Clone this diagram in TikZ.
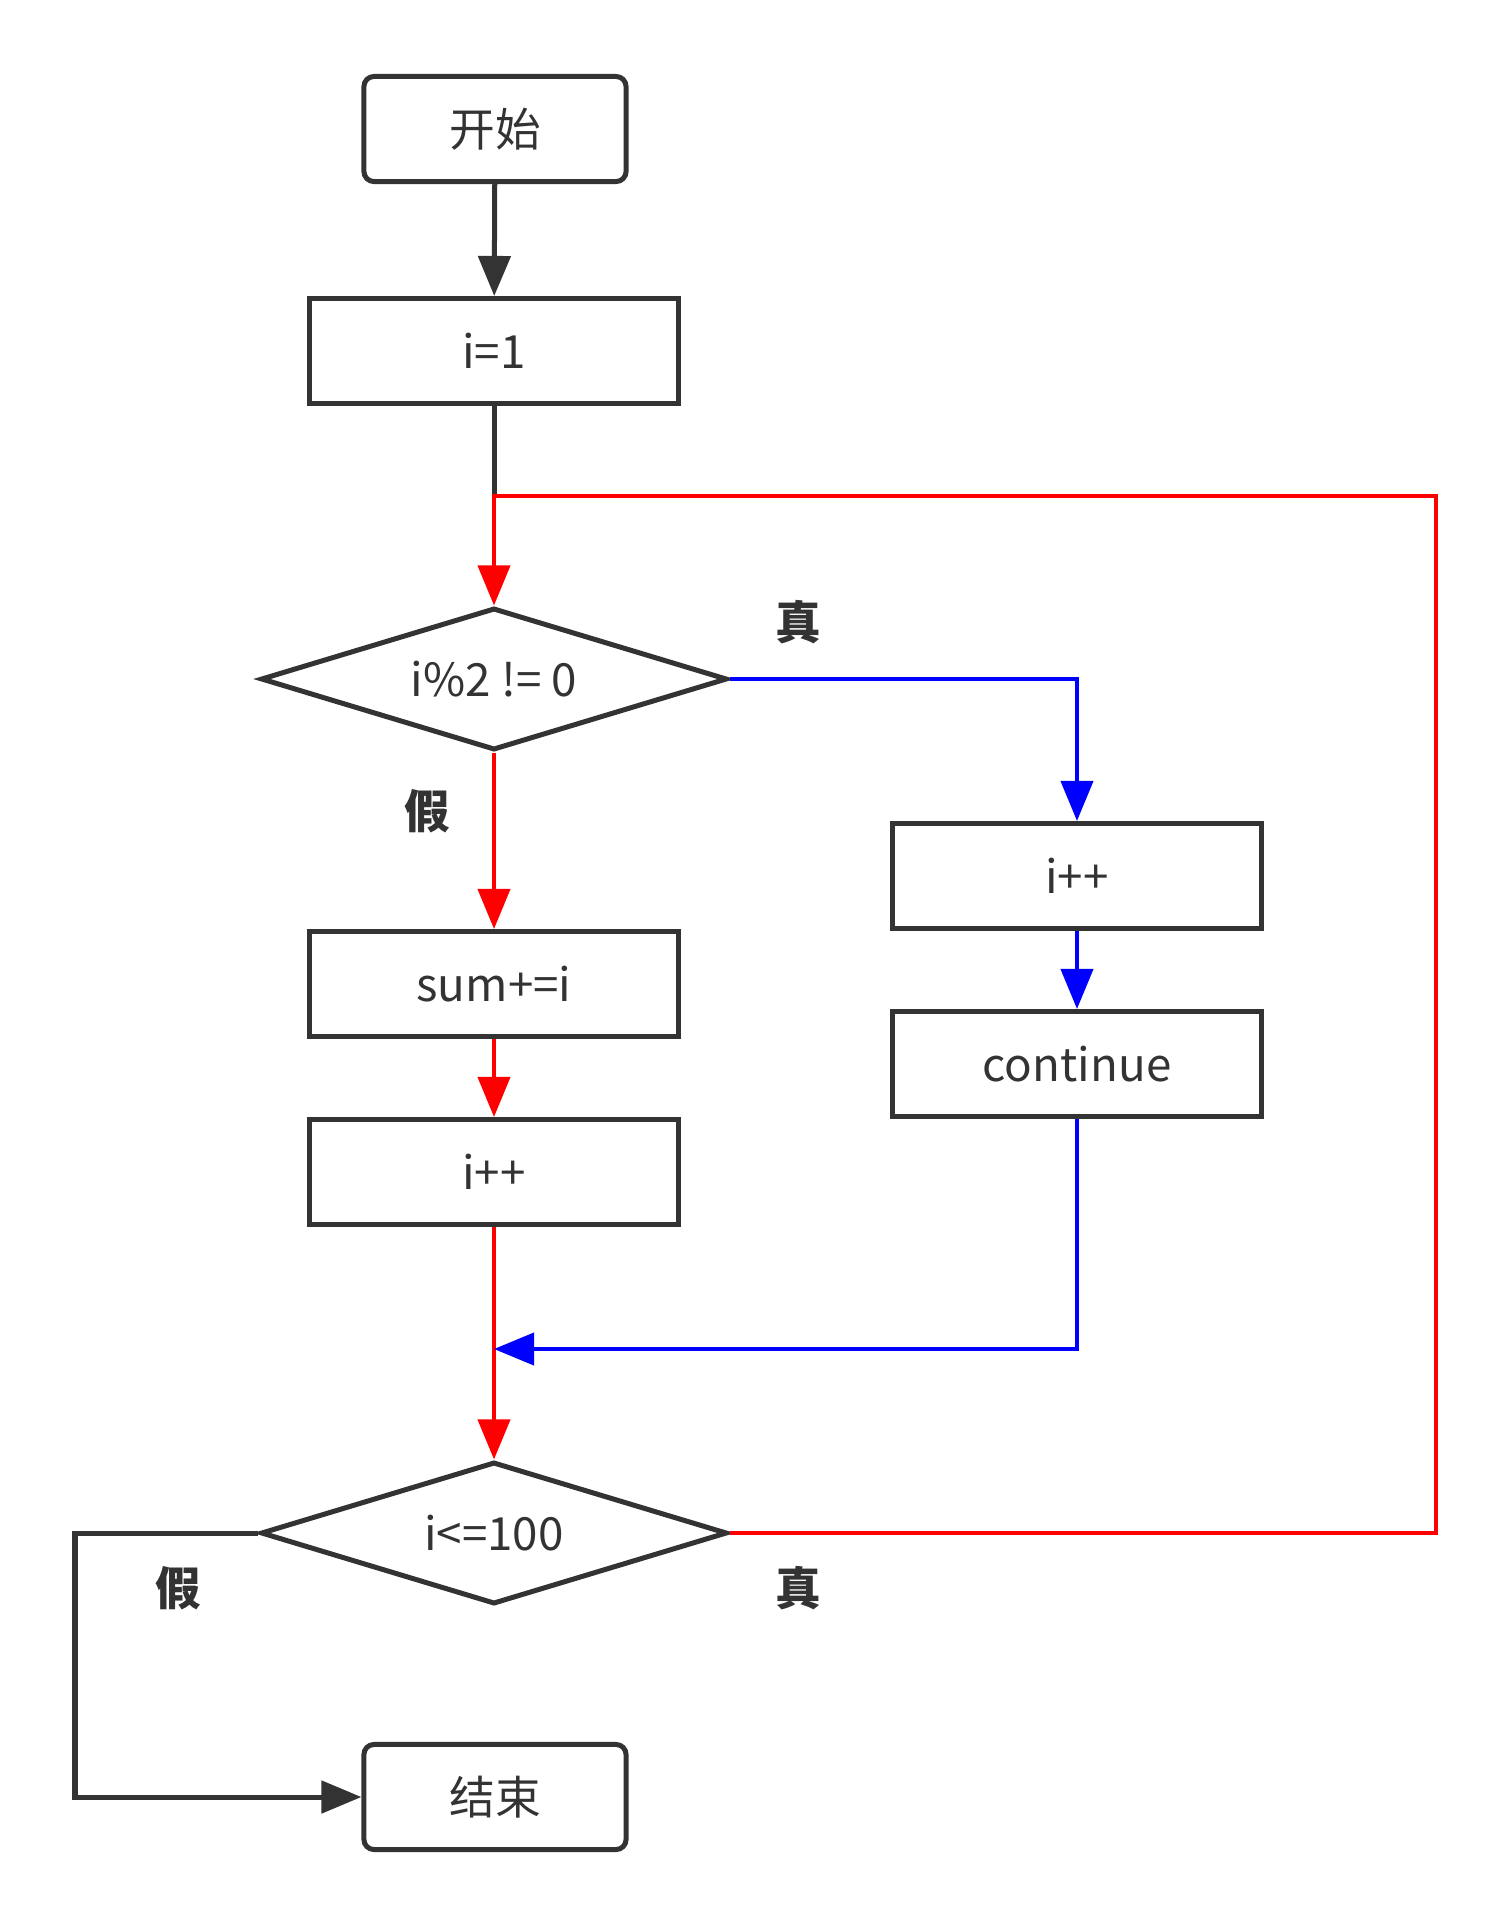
\documentclass[tikz,border=0pt]{standalone}
\usepackage{fontspec}
\setmainfont{Noto Sans CJK SC}
\usetikzlibrary{shapes.geometric,arrows.meta}
\definecolor{dk}{HTML}{333333}

\begin{document}
\begin{tikzpicture}[x=0.01cm,y=-0.01cm,
  font=\fontsize{13}{15}\selectfont, text=dk,
  box/.style={draw=dk,line width=0.05cm,minimum width=3.68cm,minimum height=1.05cm,inner sep=0},
  term/.style={box,rounded corners=0.1cm,minimum width=2.62cm},
  cond/.style={draw=dk,line width=0.05cm,diamond,aspect=3.2,minimum width=4.66cm,minimum height=1.42cm,inner sep=0},
  tip/.style={-{Triangle[length=0.4cm,width=0.32cm]}},
  dkline/.style={draw=dk,line width=0.05cm},
  redline/.style={draw=red,line width=0.04cm},
  blueline/.style={draw=blue,line width=0.04cm},
  lbl/.style={font=\fontsize{13}{15}\selectfont\bfseries}]
\useasboundingbox (0,0) rectangle (1512,1926);
% boxes
\node[term] (start) at (495,129) {开始};
\node[box] (init) at (494,351) {i=1};
\node[cond] (odd) at (494,679) {i\%2 != 0};
\node[box] (incR) at (1077,876) {i++};
\node[box] (cont) at (1077,1064) {continue};
\node[box] (sum) at (494,984) {sum+=i};
\node[box] (incL) at (494,1172) {i++};
\node[cond] (test) at (494,1533) {i<=100};
\node[term] (stop) at (495,1797) {结束};
% bend points
\coordinate (top) at (494,496);
\coordinate (loopR) at (1436,496);
\coordinate (merge) at (494,1349);
\coordinate (loopL) at (75,1797);
% labels
\node[lbl] (t1) at (798,622) {真};
\node[lbl] (f1) at (427,811) {假};
\node[lbl] (f2) at (178,1588) {假};
\node[lbl] (t2) at (798,1588) {真};
% arrows
\draw[dkline,tip] (start) -- (init);
\draw[dkline] (init) -- (top);
\draw[redline,tip] (test.east) -| (loopR) -- (top) -- (odd.north);
\draw[redline,tip] (odd) -- (sum);
\draw[redline,tip] (sum) -- (incL);
\draw[redline,tip] (incL) -- (test);
\draw[dkline,tip] (test.west) -| (loopL) -- (stop.west);
\draw[blueline,tip] (odd.east) -| (incR.north);
\draw[blueline,tip] (incR) -- (cont);
\draw[blueline,tip] (cont.south) |- (merge);
\end{tikzpicture}
\end{document}
